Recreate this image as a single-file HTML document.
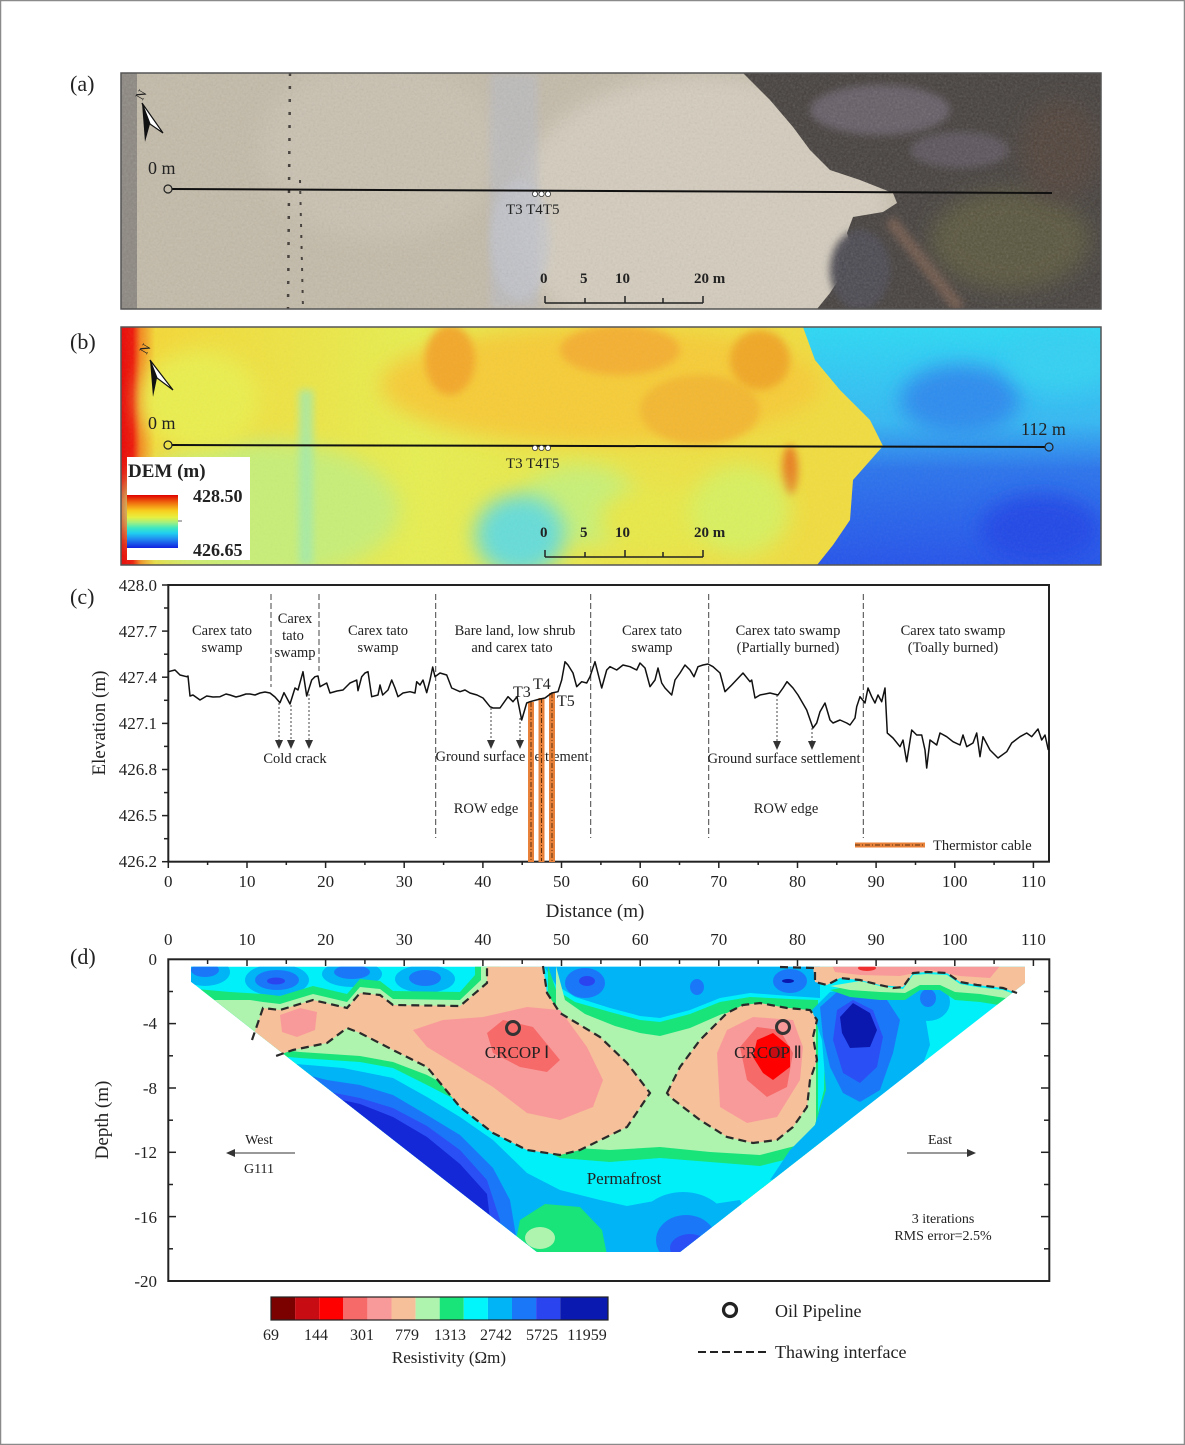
<!DOCTYPE html>
<html><head><meta charset="utf-8">
<style>
html,body{margin:0;padding:0;background:#fff;}
body{width:1185px;height:1445px;overflow:hidden;}
svg{display:block;}
text{font-family:"Liberation Serif",serif;fill:#222;}
</style></head>
<body>
<svg width="1185" height="1445" viewBox="0 0 1185 1445" xmlns="http://www.w3.org/2000/svg">
<defs>
<filter id="bl" x="-50%" y="-50%" width="200%" height="200%"><feGaussianBlur stdDeviation="10"/></filter>
<filter id="bl2" x="-50%" y="-50%" width="200%" height="200%"><feGaussianBlur stdDeviation="4"/></filter>
<filter id="tex" x="0" y="0" width="100%" height="100%"><feTurbulence type="fractalNoise" baseFrequency="0.45" numOctaves="2" seed="4"/><feColorMatrix type="saturate" values="0"/></filter>
<clipPath id="ca"><rect x="121" y="73" width="980" height="236"/></clipPath>
<clipPath id="cb"><rect x="121" y="327" width="980" height="238"/></clipPath>
<clipPath id="cd"><path d="M191,966.7 L1025,966.7 L1025,983 L680,1252 L537,1252 L191,981.7 Z"/></clipPath>
<linearGradient id="dem" x1="0" y1="0" x2="0" y2="1">
<stop offset="0" stop-color="#e00000"/><stop offset="0.15" stop-color="#f07010"/><stop offset="0.3" stop-color="#f8d020"/><stop offset="0.42" stop-color="#e8f040"/><stop offset="0.52" stop-color="#a0f080"/><stop offset="0.62" stop-color="#40e8c0"/><stop offset="0.72" stop-color="#20d0f0"/><stop offset="0.85" stop-color="#2080f0"/><stop offset="1" stop-color="#1020e0"/>
</linearGradient>
<linearGradient id="demL" x1="0" y1="0" x2="1" y2="0">
<stop offset="0" stop-color="#e80808"/><stop offset="0.012" stop-color="#ee1a0a"/><stop offset="0.02" stop-color="#f38a20"/><stop offset="0.035" stop-color="#f4d838"/><stop offset="0.3" stop-color="#e6ee52"/><stop offset="0.7" stop-color="#f0dc40"/><stop offset="1" stop-color="#f0dc40"/>
</linearGradient>
<linearGradient id="demR" x1="0" y1="0" x2="0" y2="1">
<stop offset="0" stop-color="#2ed8f4"/><stop offset="0.4" stop-color="#36b8f2"/><stop offset="0.6" stop-color="#2c74ec"/><stop offset="1" stop-color="#2654ea"/>
</linearGradient>
</defs>

<!-- outer border -->
<rect x="0.5" y="0.5" width="1184" height="1444" fill="none" stroke="#8a8a8a" stroke-width="1.5"/>

<!-- panel labels -->
<text x="70" y="91" font-size="22">(a)</text>
<text x="70" y="349" font-size="22">(b)</text>
<text x="70" y="604" font-size="22">(c)</text>
<text x="70" y="964" font-size="22">(d)</text>

<!-- ================= PANEL A ================= -->
<g clip-path="url(#ca)">
<rect x="121" y="73" width="980" height="236" fill="#c3baa8"/>
<rect x="121" y="73" width="16" height="236" fill="#8c8780"/>
<ellipse cx="700" cy="215" rx="190" ry="140" fill="#d4ccbd" filter="url(#bl)"/>
<ellipse cx="380" cy="150" rx="120" ry="90" fill="#c9c1b0" filter="url(#bl)"/>
<rect x="490" y="73" width="48" height="236" fill="#b9bcc6" opacity="0.6" filter="url(#bl2)"/>
<ellipse cx="520" cy="240" rx="30" ry="60" fill="#c3c6d0" opacity="0.6" filter="url(#bl2)"/>
<line x1="290" y1="73" x2="288" y2="309" stroke="#3a3530" stroke-width="2.5" stroke-dasharray="3 10"/>
<line x1="300" y1="180" x2="303" y2="309" stroke="#3a3530" stroke-width="2" stroke-dasharray="3 8"/>
<polygon points="743,73 1101,73 1101,309 817,309 830,293 843,273 853,253 847,233 853,217 883,212 897,203 893,193 860,180 830,170 810,150 793,127 770,100" fill="#433e3b"/>
<ellipse cx="880" cy="110" rx="70" ry="25" fill="#7a6f80" filter="url(#bl2)" opacity="0.6"/>
<ellipse cx="960" cy="150" rx="50" ry="18" fill="#706678" filter="url(#bl2)" opacity="0.5"/>
<ellipse cx="1010" cy="240" rx="80" ry="50" fill="#57523a" filter="url(#bl)"/>
<ellipse cx="1060" cy="150" rx="40" ry="50" fill="#4d4038" filter="url(#bl)"/>
<ellipse cx="860" cy="270" rx="30" ry="40" fill="#4a4650" filter="url(#bl2)"/>
<line x1="890" y1="220" x2="960" y2="309" stroke="#6e574a" stroke-width="12" filter="url(#bl2)"/>
<rect x="121" y="73" width="980" height="236" filter="url(#tex)" opacity="0.22"/>
</g>
<rect x="121" y="73" width="980" height="236" fill="none" stroke="#555" stroke-width="1.5"/>
<!-- line a -->
<line x1="172" y1="189" x2="1052" y2="193" stroke="#111" stroke-width="2"/>
<circle cx="168" cy="189" r="4" fill="none" stroke="#222" stroke-width="1.2"/>
<circle cx="535" cy="194" r="2.6" fill="#fff" stroke="#333" stroke-width="0.8"/>
<circle cx="541.5" cy="194" r="2.6" fill="#fff" stroke="#333" stroke-width="0.8"/>
<circle cx="548" cy="194" r="2.6" fill="#fff" stroke="#333" stroke-width="0.8"/>
<text x="148" y="174" font-size="18" fill="#333">0 m</text>
<text x="506" y="214" font-size="15" fill="#333">T3 T4T5</text>
<!-- north arrow a -->
<text x="136" y="100" font-size="13" transform="rotate(-60 140 95)" fill="#111">N</text>
<polygon points="142,103 145,142 150,124" fill="#111"/>
<polygon points="142,103 150,124 163,133" fill="#fff" stroke="#111" stroke-width="1.2"/>
<!-- scale bar a -->
<g font-size="15" font-weight="bold" fill="#222">
<text x="540" y="283">0</text><text x="580" y="283">5</text><text x="615" y="283">10</text><text x="694" y="283">20 m</text>
</g>
<g stroke="#222" stroke-width="1.5">
<line x1="545" y1="303" x2="703" y2="303"/>
<line x1="545" y1="296" x2="545" y2="303"/><line x1="585" y1="298" x2="585" y2="303"/><line x1="625" y1="296" x2="625" y2="303"/><line x1="663" y1="298" x2="663" y2="303"/><line x1="703" y1="296" x2="703" y2="303"/>
</g>

<!-- ================= PANEL B ================= -->
<g clip-path="url(#cb)">
<rect x="121" y="327" width="980" height="238" fill="url(#demL)"/>
<ellipse cx="260" cy="510" rx="140" ry="70" fill="#c8ee78" filter="url(#bl)"/>
<ellipse cx="200" cy="400" rx="60" ry="50" fill="#eaee50" filter="url(#bl)"/>
<rect x="299" y="390" width="14" height="175" fill="#a0eab0" opacity="0.8" filter="url(#bl2)"/>
<ellipse cx="600" cy="385" rx="220" ry="60" fill="#f6cc38" filter="url(#bl)"/>
<ellipse cx="450" cy="360" rx="25" ry="35" fill="#f3a82a" filter="url(#bl2)"/>
<ellipse cx="620" cy="350" rx="60" ry="25" fill="#f4b030" filter="url(#bl2)"/>
<ellipse cx="700" cy="410" rx="60" ry="35" fill="#f3b832" filter="url(#bl2)"/>
<ellipse cx="760" cy="360" rx="30" ry="30" fill="#f0a828" filter="url(#bl2)"/>
<ellipse cx="790" cy="470" rx="8" ry="25" fill="#e88020" filter="url(#bl2)"/>
<ellipse cx="580" cy="505" rx="60" ry="40" fill="#c8f078" filter="url(#bl)"/>
<ellipse cx="520" cy="535" rx="45" ry="40" fill="#68dcd8" filter="url(#bl)"/>
<ellipse cx="660" cy="520" rx="60" ry="35" fill="#e8e848" filter="url(#bl)"/>
<ellipse cx="740" cy="510" rx="50" ry="45" fill="#d8f060" filter="url(#bl)"/>
<polygon points="803,327 1101,327 1101,565 817,565 833,545 850,520 853,480 883,446 870,420 840,390 815,360" fill="url(#demR)"/>
<ellipse cx="960" cy="400" rx="60" ry="35" fill="#2e8cee" filter="url(#bl)"/>
<ellipse cx="1060" cy="360" rx="50" ry="30" fill="#34d0f2" filter="url(#bl)"/>
<ellipse cx="1040" cy="530" rx="60" ry="35" fill="#2448e6" filter="url(#bl)"/>
<rect x="121" y="327" width="980" height="238" filter="url(#tex)" opacity="0.08"/>
</g>
<rect x="121" y="327" width="980" height="238" fill="none" stroke="#555" stroke-width="1.5"/>
<line x1="172" y1="445" x2="1045" y2="447" stroke="#111" stroke-width="2"/>
<circle cx="168" cy="445" r="4" fill="none" stroke="#222" stroke-width="1.2"/>
<circle cx="1049" cy="447" r="4" fill="none" stroke="#222" stroke-width="1.2"/>
<circle cx="535" cy="448" r="2.6" fill="#fff" stroke="#333" stroke-width="0.8"/>
<circle cx="541.5" cy="448" r="2.6" fill="#fff" stroke="#333" stroke-width="0.8"/>
<circle cx="548" cy="448" r="2.6" fill="#fff" stroke="#333" stroke-width="0.8"/>
<text x="148" y="429" font-size="18" fill="#222">0 m</text>
<text x="1021" y="435" font-size="18" fill="#222">112 m</text>
<text x="506" y="468" font-size="15" fill="#222">T3 T4T5</text>
<text x="140" y="354" font-size="13" transform="rotate(-60 144 349)" fill="#111">N</text>
<polygon points="150,360 153,397 157,378" fill="#111"/>
<polygon points="150,360 157,378 173,390" fill="#fff" stroke="#111" stroke-width="1.2"/>
<!-- DEM legend -->
<rect x="127" y="457" width="123" height="103" fill="#fff"/>
<text x="128" y="477" font-size="19" font-weight="bold" fill="#111">DEM (m)</text>
<rect x="127" y="495" width="51" height="53" fill="url(#dem)"/>
<line x1="178" y1="521" x2="182" y2="521" stroke="#999" stroke-width="1.5"/>
<text x="193" y="502" font-size="18" font-weight="bold" fill="#111">428.50</text>
<text x="193" y="556" font-size="18" font-weight="bold" fill="#111">426.65</text>
<g font-size="15" font-weight="bold" fill="#222">
<text x="540" y="537">0</text><text x="580" y="537">5</text><text x="615" y="537">10</text><text x="694" y="537">20 m</text>
</g>
<g stroke="#222" stroke-width="1.5">
<line x1="545" y1="557" x2="703" y2="557"/>
<line x1="545" y1="550" x2="545" y2="557"/><line x1="585" y1="552" x2="585" y2="557"/><line x1="625" y1="550" x2="625" y2="557"/><line x1="663" y1="552" x2="663" y2="557"/><line x1="703" y1="550" x2="703" y2="557"/>
</g>

<!-- ================= PANEL C ================= -->
<rect x="168.3" y="585" width="880.7" height="276.7" fill="none" stroke="#222" stroke-width="2"/>
<g stroke="#222" stroke-width="1.5">
<line x1="162" y1="585" x2="168" y2="585"/><line x1="164" y1="608" x2="168" y2="608"/>
<line x1="162" y1="631.1" x2="168" y2="631.1"/><line x1="164" y1="654.2" x2="168" y2="654.2"/>
<line x1="162" y1="677.2" x2="168" y2="677.2"/><line x1="164" y1="700.3" x2="168" y2="700.3"/>
<line x1="162" y1="723.4" x2="168" y2="723.4"/><line x1="164" y1="746.4" x2="168" y2="746.4"/>
<line x1="162" y1="769.5" x2="168" y2="769.5"/><line x1="164" y1="792.6" x2="168" y2="792.6"/>
<line x1="162" y1="815.6" x2="168" y2="815.6"/><line x1="164" y1="838.7" x2="168" y2="838.7"/>
<line x1="162" y1="861.7" x2="168" y2="861.7"/>
</g>
<g font-size="17" text-anchor="end" fill="#222">
<text x="157" y="591">428.0</text><text x="157" y="637">427.7</text><text x="157" y="683">427.4</text><text x="157" y="729">427.1</text><text x="157" y="775">426.8</text><text x="157" y="821">426.5</text><text x="157" y="867">426.2</text>
</g>
<g stroke="#222" stroke-width="1.5">
<line x1="168.3" y1="861.7" x2="168.3" y2="868"/><line x1="207.6" y1="861.7" x2="207.6" y2="865"/>
<line x1="247" y1="861.7" x2="247" y2="868"/><line x1="286.3" y1="861.7" x2="286.3" y2="865"/>
<line x1="325.6" y1="861.7" x2="325.6" y2="868"/><line x1="364.9" y1="861.7" x2="364.9" y2="865"/>
<line x1="404.2" y1="861.7" x2="404.2" y2="868"/><line x1="443.6" y1="861.7" x2="443.6" y2="865"/>
<line x1="482.9" y1="861.7" x2="482.9" y2="868"/><line x1="522.2" y1="861.7" x2="522.2" y2="865"/>
<line x1="561.5" y1="861.7" x2="561.5" y2="868"/><line x1="600.9" y1="861.7" x2="600.9" y2="865"/>
<line x1="640.2" y1="861.7" x2="640.2" y2="868"/><line x1="679.5" y1="861.7" x2="679.5" y2="865"/>
<line x1="718.8" y1="861.7" x2="718.8" y2="868"/><line x1="758.2" y1="861.7" x2="758.2" y2="865"/>
<line x1="797.5" y1="861.7" x2="797.5" y2="868"/><line x1="836.8" y1="861.7" x2="836.8" y2="865"/>
<line x1="876.1" y1="861.7" x2="876.1" y2="868"/><line x1="915.5" y1="861.7" x2="915.5" y2="865"/>
<line x1="954.8" y1="861.7" x2="954.8" y2="868"/><line x1="994.1" y1="861.7" x2="994.1" y2="865"/>
<line x1="1033.4" y1="861.7" x2="1033.4" y2="868"/>
</g>
<g font-size="17" text-anchor="middle" fill="#222">
<text x="168.3" y="887">0</text><text x="247" y="887">10</text><text x="325.6" y="887">20</text><text x="404.2" y="887">30</text><text x="482.9" y="887">40</text><text x="561.5" y="887">50</text><text x="640.2" y="887">60</text><text x="718.8" y="887">70</text><text x="797.5" y="887">80</text><text x="876.1" y="887">90</text><text x="954.8" y="887">100</text><text x="1033.4" y="887">110</text>
</g>
<text x="595" y="917" font-size="19" text-anchor="middle" fill="#222">Distance (m)</text>
<text x="105" y="723" font-size="19" text-anchor="middle" fill="#222" transform="rotate(-90 105 723)">Elevation (m)</text>
<g stroke="#444" stroke-width="1" stroke-dasharray="6 3">
<line x1="271" y1="594" x2="271" y2="687"/>
<line x1="319" y1="594" x2="319" y2="671"/>
<line x1="435.7" y1="594" x2="435.7" y2="838"/>
<line x1="590.7" y1="594" x2="590.7" y2="838"/>
<line x1="708.7" y1="594" x2="708.7" y2="838"/>
<line x1="863.3" y1="594" x2="863.3" y2="838"/>
</g>
<g font-size="14.5" text-anchor="middle" fill="#333">
<text x="222" y="635">Carex tato</text><text x="222" y="652">swamp</text>
<text x="295" y="623">Carex</text><text x="293" y="640">tato</text><text x="295" y="657">swamp</text>
<text x="378" y="635">Carex tato</text><text x="378" y="652">swamp</text>
<text x="515" y="635">Bare land, low shrub</text><text x="512" y="652">and carex tato</text>
<text x="652" y="635">Carex tato</text><text x="652" y="652">swamp</text>
<text x="788" y="635">Carex tato swamp</text><text x="788" y="652">(Partially burned)</text>
<text x="953" y="635">Carex tato swamp</text><text x="953" y="652">(Toally burned)</text>
<text x="295" y="763">Cold crack</text>
<text x="512" y="761">Ground surface settlement</text>
<text x="784" y="763">Ground surface settlement</text>
<text x="486" y="813">ROW  edge</text>
<text x="786" y="813">ROW  edge</text>
</g>
<g stroke="#444" stroke-width="1" stroke-dasharray="2 2">
<line x1="279" y1="703" x2="279" y2="740"/><line x1="291" y1="705" x2="291" y2="740"/><line x1="309" y1="694" x2="309" y2="740"/>
<line x1="491" y1="708" x2="491" y2="740"/><line x1="520" y1="718" x2="520" y2="740"/>
<line x1="777" y1="695" x2="777" y2="741"/><line x1="812" y1="728" x2="812" y2="741"/>
</g>
<g fill="#333">
<polygon points="275,740 283,740 279,749"/><polygon points="287,740 295,740 291,749"/><polygon points="305,740 313,740 309,749"/>
<polygon points="487,740 495,740 491,749"/><polygon points="516,740 524,740 520,749"/>
<polygon points="773,741 781,741 777,750"/><polygon points="808,741 816,741 812,750"/>
</g>
<g>
<rect x="528" y="702" width="6" height="160" fill="#e8823a"/>
<rect x="538.5" y="698" width="6" height="164" fill="#e8823a"/>
<rect x="549" y="693" width="6" height="169" fill="#e8823a"/>
<g stroke="#5a3010" stroke-width="1" stroke-dasharray="5 2 1 2">
<line x1="531" y1="702" x2="531" y2="861"/><line x1="541.5" y1="698" x2="541.5" y2="861"/><line x1="552" y1="693" x2="552" y2="861"/>
</g>
</g>
<g font-size="16" fill="#222"><text x="513" y="697">T3</text><text x="533" y="689">T4</text><text x="557" y="706">T5</text></g>
<polyline fill="none" stroke="#111" stroke-width="1.5" stroke-linejoin="round" points="168.3,671.7 175,670 180,675 186.7,676.7 188,676 190,696 193,695 200,700 206.7,696 213,697 220,696.7 226,694 230,695 236,697 240,696 246,694 250,694 255,695 260,693 265,692 270,693 275,697 280,702.7 284,692.7 290,704 295,688 298,690 303,671.7 306.7,696 311.7,680 315,676.7 318,676 320,686.7 326.7,683 330,693 337,691 343,690 350,683 353,681.7 356.7,680 358,690.7 361.7,676.7 365,673 368,671.7 371.7,696.7 378,695 380,685 382.7,695 388,690 391.7,680 395,688 398,696.7 403,693 410,691.7 415,693 416.7,681.7 420,685 423,680 426.7,692.7 430,680 432.7,667 435,676.7 440,673 446.7,675 451.7,688 460,691.7 465,690 470,693 477,695 483,698 490,706.7 493,708 500,708 508,696.7 513,701.7 517,696.7 521.7,720 526.7,703 530,701.7 540,699 545,698 551.7,693 558,691.7 561.7,680 565,661.7 568,665 573,673 576.7,686.7 581.7,681.7 586.7,683 590,676.7 595,661.7 601.7,688 606.7,670 610,666.7 616.7,670 623,665 630,666.7 636.7,670 640,663 645,668 650,686.7 655,680 658,668 661.7,683 665,688 671.7,695 675,680 680,673 685,665 690,670 694,676.7 698,666.7 703,665 708,664 713,666.7 720,673 725,691.7 731.7,685 743,673 750,681.7 751.7,680 755,698 760,695 770,693 778,695 783,688 787,681.7 793,688 798,695 806.7,710 813,728 816.7,723 820,711.7 825,703 830,720 833,723 840,720 846.7,723 850,725 855,718 856.7,706.7 860,696.7 865,703 868,688 871.7,696.7 875,703 878,695 881.7,701.7 885,688 887.3,733 893,738 900,746.7 903,740 906.7,761.7 911.7,730 916.7,735 921.7,735 925,750 926.7,768 930,740 936.7,745 940,733 946.7,736.7 953,741.7 960,745 963,735 966.7,746.7 973,743 976.7,733 980,756.7 983,736.7 990,750 998,758 1006.7,751.7 1011.7,743 1020,736.7 1026.7,733 1031.7,736.7 1038,729 1041.7,740 1045,735 1048.3,750"/>
<rect x="855" y="842.5" width="70" height="5" fill="#e8823a"/>
<line x1="855" y1="845" x2="925" y2="845" stroke="#5a3010" stroke-width="1" stroke-dasharray="5 2 1 2"/>
<text x="933" y="850" font-size="14.5" fill="#333">Thermistor cable</text>

<!-- ================= PANEL D ================= -->
<g clip-path="url(#cd)">
<rect x="180" y="960" width="860" height="300" fill="#00f0fa"/>
<ellipse cx="205" cy="972" rx="25" ry="14" fill="#00b4f6"/>
<ellipse cx="205" cy="970" rx="14" ry="7" fill="#1a78f8"/>
<ellipse cx="277" cy="980" rx="32" ry="16" fill="#00b4f6"/>
<ellipse cx="277" cy="980" rx="22" ry="10" fill="#1a78f8"/>
<ellipse cx="276" cy="981" rx="9" ry="3.5" fill="#2a44f0"/>
<ellipse cx="352" cy="974" rx="30" ry="13" fill="#00b4f6"/>
<ellipse cx="352" cy="972" rx="18" ry="7" fill="#1a78f8"/>
<ellipse cx="425" cy="979" rx="30" ry="14" fill="#00b4f6"/>
<ellipse cx="425" cy="978" rx="16" ry="8" fill="#1a78f8"/>
<!-- top-middle light blue zone -->
<polygon points="540,960 820,960 820,998 790,996 750,993 720,998 690,1010 660,1018 640,1016 610,1008 575,997 556,985" fill="#00b4f6"/>
<ellipse cx="585" cy="983" rx="20" ry="15" fill="#1a78f8"/>
<ellipse cx="587" cy="981" rx="8" ry="5" fill="#2a44f0"/>
<ellipse cx="697" cy="987" rx="7" ry="8" fill="#1a78f8"/>
<ellipse cx="790" cy="981" rx="17" ry="12" fill="#1a78f8"/>
<ellipse cx="788" cy="981" rx="6" ry="2" fill="#0a18b0"/>
<!-- green top left -->
<polygon points="185,988 230,992 263,994 280,996 313,986 347,994 360,979 380,981 393,991 460,992 475,975 475,960 500,960 500,1100 185,1100" fill="#18e47a"/>
<polygon points="185,1000 250,1000 263,1002 280,1004 313,994 347,1002 360,987 380,989 393,999 460,1000 481,980 481,960 500,960 500,1050 560,1050 560,1200 185,1200" fill="#aef3ae"/>
<!-- green mid -->
<polygon points="548,966 556,990 575,1002 610,1012 640,1020 660,1022 690,1014 720,1002 750,997 790,999 818,1000 818,1200 548,1200" fill="#18e47a"/>
<polygon points="556,966 565,1000 585,1014 615,1026 640,1033 660,1036 690,1028 722,1014 750,1008 790,1008 816,1012 816,1200 556,1200" fill="#aef3ae"/>
<!-- lower bands -->
<polygon points="180,1040 240,1045 300,1052 360,1056 393,1062 427,1075 460,1093 493,1113 527,1133 560,1147 610,1150 660,1147 710,1152 760,1155 795,1146 815,1125 824,1090 825,1040 828,1000 845,1000 845,1300 180,1300" fill="#18e47a"/>
<polygon points="180,1050 240,1053 300,1058 360,1062 393,1068 427,1085 460,1102 493,1122 527,1142 560,1158 610,1162 660,1158 710,1162 760,1166 800,1156 825,1132 833,1090 833,1040 835,1000 850,1000 850,1300 180,1300" fill="#00f0fa"/>
<polygon points="180,1058 250,1060 343,1068 393,1078 427,1097 460,1117 493,1140 527,1173 560,1190 600,1200 627,1206 660,1200 700,1206 740,1200 780,1300 180,1300" fill="#00b4f6"/>
<polygon points="180,1066 280,1068 327,1080 360,1085 393,1095 427,1115 460,1135 493,1168 510,1200 520,1260 525,1300 180,1300" fill="#1a78f8"/>
<polygon points="180,1080 300,1086 360,1098 393,1108 427,1126 460,1150 487,1180 500,1220 505,1300 180,1300" fill="#2a50f5"/>
<polygon points="180,1092 320,1095 360,1104 393,1117 427,1137 460,1164 487,1194 495,1260 495,1300 180,1300" fill="#1428d8"/>
<polygon points="512,1260 520,1220 545,1204 580,1207 602,1230 608,1260" fill="#18e47a"/>
<ellipse cx="540" cy="1238" rx="15" ry="11" fill="#aef3ae"/>
<ellipse cx="683" cy="1232" rx="48" ry="40" fill="#00b4f6"/>
<ellipse cx="686" cy="1240" rx="30" ry="25" fill="#1a78f8"/>
<ellipse cx="690" cy="1248" rx="20" ry="14" fill="#2a50f5"/>
<!-- right structures -->
<polygon points="812,1010 830,992 870,986 905,992 925,1015 930,1045 915,1085 880,1120 840,1150 800,1175 770,1180 790,1150 815,1125 826,1090 822,1040" fill="#00b4f6"/>
<polygon points="820,1007 837,992 860,988 887,1000 900,1020 893,1053 880,1090 860,1102 843,1093 830,1067 823,1037" fill="#1a78f8"/>
<polygon points="837,1010 853,1000 873,1010 883,1037 877,1067 860,1083 843,1073 833,1040" fill="#2a50f5"/>
<polygon points="840,1017 853,1003 870,1013 877,1030 870,1047 850,1048 842,1033" fill="#0a18b0"/>
<ellipse cx="928" cy="1002" rx="22" ry="19" fill="#00b4f6"/>
<ellipse cx="928" cy="998" rx="8" ry="9" fill="#1a78f8"/>
<polygon points="830,990 860,984 880,989 903,991 913,978 927,976 947,977 960,986 977,989 1003,992 1017,997 1030,985 1030,1005 1005,1006 980,1002 955,1000 940,990 920,990 905,1000 880,1000 850,997" fill="#18e47a"/>
<polygon points="830,986 860,981 880,986 903,989 913,975 927,974 947,975 960,984 977,987 1003,990 1017,995 1030,983 1030,995 1005,998 980,994 955,992 940,985 920,985 905,993 880,992 850,990" fill="#aef3ae"/>
<!-- peach regions -->
<polygon points="245,1050 252,1040 263,1008 280,1010 313,1000 347,1008 360,993 380,995 393,1005 460,1006 487,983 487,966 543,966 547,993 560,1013 600,1037 627,1063 650,1093 627,1127 580,1150 560,1155 527,1150 493,1133 460,1107 427,1067 393,1050 360,1033 347,1028 327,1043 293,1050 273,1057" fill="#f6c09a"/>
<polygon points="667,1093 680,1067 700,1040 727,1013 743,1005 760,1003 787,1008 810,1010 817,1020 813,1037 817,1060 810,1080 807,1107 793,1127 777,1140 753,1143 727,1137 700,1120 670,1097" fill="#f6c09a"/>
<polygon points="812,960 1030,960 1030,983 1017,993 1003,988 977,985 960,982 947,973 927,972 913,973 903,987 880,985 860,980 840,978 827,985 815,982" fill="#f6c09a"/>
<polygon points="280,1015 300,1008 317,1012 315,1030 297,1037 282,1032" fill="#f99a9a"/>
<polygon points="413,1030 443,1020 483,1017 527,1007 560,1010 587,1047 603,1080 593,1107 560,1120 527,1113 493,1087 460,1067 427,1047" fill="#f99a9a"/>
<polygon points="717,1053 727,1030 753,1017 793,1020 803,1047 800,1080 777,1117 747,1123 720,1107" fill="#f99a9a"/>
<polygon points="830,960 1005,960 990,978 960,976 930,970 900,976 860,975 835,972" fill="#f99a9a"/>
<polygon points="487,1033 503,1020 533,1027 560,1060 547,1072 520,1067 493,1053" fill="#f66a6a"/>
<polygon points="740,1047 757,1027 780,1030 793,1053 787,1087 767,1097 747,1080" fill="#f66a6a"/>
<polygon points="757,1040 773,1033 790,1047 790,1067 773,1080 763,1073 753,1057" fill="#ff0000"/>
<ellipse cx="777" cy="1052" rx="7" ry="6" fill="#c80c14"/>
<ellipse cx="867" cy="968" rx="9" ry="3" fill="#f03030"/>
</g>
<g fill="none" stroke="#2a2a2a" stroke-width="2.2" stroke-dasharray="8 5">
<polyline points="252,1040 263,1008 280,1010 313,1000 347,1008 360,993 380,995 393,1005 460,1006 487,983 487,966"/>
<polyline points="543,966 547,993 560,1013 600,1037 627,1063 650,1093 627,1127 580,1150 560,1155 527,1150 493,1133 460,1107 427,1067 393,1050 360,1033 347,1028 327,1043 293,1050 273,1057"/>
<polygon points="667,1093 680,1067 700,1040 727,1013 743,1005 760,1003 787,1008 810,1010 817,1020 813,1037 817,1060 810,1080 807,1107 793,1127 777,1140 753,1143 727,1137 700,1120 670,1097"/>
<polyline points="780,967 815,968 815,982 827,985 840,978 860,980 880,985 893,988 903,987 913,973 927,972 947,973 960,982 977,985 1003,988 1017,993"/>
</g>
<circle cx="513" cy="1028" r="6.5" fill="none" stroke="#333" stroke-width="3"/>
<circle cx="783" cy="1027" r="6.5" fill="none" stroke="#333" stroke-width="3"/>
<text x="517" y="1058" font-size="17" text-anchor="middle" fill="#333">CRCOP Ⅰ</text>
<text x="768" y="1058" font-size="17" text-anchor="middle" fill="#333">CRCOP Ⅱ</text>
<text x="624" y="1184" font-size="17" text-anchor="middle" fill="#1e3422">Permafrost</text>
<rect x="168.3" y="959.3" width="881" height="321.7" fill="none" stroke="#222" stroke-width="2"/>
<g stroke="#222" stroke-width="1.5">
<line x1="207.6" y1="959.3" x2="207.6" y2="964"/><line x1="247" y1="959.3" x2="247" y2="966"/>
<line x1="286.3" y1="959.3" x2="286.3" y2="964"/><line x1="325.6" y1="959.3" x2="325.6" y2="966"/>
<line x1="364.9" y1="959.3" x2="364.9" y2="964"/><line x1="404.2" y1="959.3" x2="404.2" y2="966"/>
<line x1="443.6" y1="959.3" x2="443.6" y2="964"/><line x1="482.9" y1="959.3" x2="482.9" y2="966"/>
<line x1="522.2" y1="959.3" x2="522.2" y2="964"/><line x1="561.5" y1="959.3" x2="561.5" y2="966"/>
<line x1="600.9" y1="959.3" x2="600.9" y2="964"/><line x1="640.2" y1="959.3" x2="640.2" y2="966"/>
<line x1="679.5" y1="959.3" x2="679.5" y2="964"/><line x1="718.8" y1="959.3" x2="718.8" y2="966"/>
<line x1="758.2" y1="959.3" x2="758.2" y2="964"/><line x1="797.5" y1="959.3" x2="797.5" y2="966"/>
<line x1="836.8" y1="959.3" x2="836.8" y2="964"/><line x1="876.1" y1="959.3" x2="876.1" y2="966"/>
<line x1="915.5" y1="959.3" x2="915.5" y2="964"/><line x1="954.8" y1="959.3" x2="954.8" y2="966"/>
<line x1="994.1" y1="959.3" x2="994.1" y2="964"/><line x1="1033.4" y1="959.3" x2="1033.4" y2="966"/>
<line x1="168.3" y1="991.5" x2="173" y2="991.5"/><line x1="168.3" y1="1023.6" x2="176" y2="1023.6"/>
<line x1="168.3" y1="1055.8" x2="173" y2="1055.8"/><line x1="168.3" y1="1088" x2="176" y2="1088"/>
<line x1="168.3" y1="1120.2" x2="173" y2="1120.2"/><line x1="168.3" y1="1152.3" x2="176" y2="1152.3"/>
<line x1="168.3" y1="1184.5" x2="173" y2="1184.5"/><line x1="168.3" y1="1216.6" x2="176" y2="1216.6"/>
<line x1="168.3" y1="1248.8" x2="173" y2="1248.8"/>
<line x1="1049.3" y1="991.5" x2="1044" y2="991.5"/><line x1="1049.3" y1="1023.6" x2="1041" y2="1023.6"/>
<line x1="1049.3" y1="1055.8" x2="1044" y2="1055.8"/><line x1="1049.3" y1="1088" x2="1041" y2="1088"/>
<line x1="1049.3" y1="1120.2" x2="1044" y2="1120.2"/><line x1="1049.3" y1="1152.3" x2="1041" y2="1152.3"/>
<line x1="1049.3" y1="1184.5" x2="1044" y2="1184.5"/><line x1="1049.3" y1="1216.6" x2="1041" y2="1216.6"/>
<line x1="1049.3" y1="1248.8" x2="1044" y2="1248.8"/>
</g>
<g font-size="17" text-anchor="middle" fill="#222">
<text x="168.3" y="945">0</text><text x="247" y="945">10</text><text x="325.6" y="945">20</text><text x="404.2" y="945">30</text><text x="482.9" y="945">40</text><text x="561.5" y="945">50</text><text x="640.2" y="945">60</text><text x="718.8" y="945">70</text><text x="797.5" y="945">80</text><text x="876.1" y="945">90</text><text x="954.8" y="945">100</text><text x="1033.4" y="945">110</text>
</g>
<g font-size="17" text-anchor="end" fill="#222">
<text x="157" y="965">0</text><text x="157" y="1029">-4</text><text x="157" y="1094">-8</text><text x="157" y="1158">-12</text><text x="157" y="1223">-16</text><text x="157" y="1287">-20</text>
</g>
<text x="108" y="1120" font-size="19" text-anchor="middle" fill="#222" transform="rotate(-90 108 1120)">Depth (m)</text>
<text x="259" y="1144" font-size="14" text-anchor="middle" fill="#333">West</text>
<line x1="295" y1="1153" x2="232" y2="1153" stroke="#333" stroke-width="1"/>
<polygon points="226,1153 235,1149 235,1157" fill="#333"/>
<text x="259" y="1173" font-size="14" text-anchor="middle" fill="#333">G111</text>
<text x="940" y="1144" font-size="14" text-anchor="middle" fill="#333">East</text>
<line x1="907" y1="1153" x2="969" y2="1153" stroke="#333" stroke-width="1"/>
<polygon points="976,1153 967,1149 967,1157" fill="#333"/>
<text x="943" y="1223" font-size="14" text-anchor="middle" fill="#333">3 iterations</text>
<text x="943" y="1240" font-size="14" text-anchor="middle" fill="#333">RMS error=2.5%</text>

<g>
<rect x="271" y="1297" width="24.1" height="23" fill="#7b0000"/>
<rect x="295.1" y="1297" width="24.1" height="23" fill="#c80c14"/>
<rect x="319.2" y="1297" width="24.1" height="23" fill="#ff0000"/>
<rect x="343.3" y="1297" width="24.1" height="23" fill="#f66a6a"/>
<rect x="367.4" y="1297" width="24.1" height="23" fill="#f99a9a"/>
<rect x="391.5" y="1297" width="24.1" height="23" fill="#f6c09a"/>
<rect x="415.6" y="1297" width="24.1" height="23" fill="#aef3ae"/>
<rect x="439.7" y="1297" width="24.1" height="23" fill="#18e47a"/>
<rect x="463.8" y="1297" width="24.1" height="23" fill="#00f6fa"/>
<rect x="487.9" y="1297" width="24.1" height="23" fill="#00b4f6"/>
<rect x="512" y="1297" width="24.1" height="23" fill="#1a78f8"/>
<rect x="536.1" y="1297" width="24.1" height="23" fill="#2a44f0"/>
<rect x="560.2" y="1297" width="47.8" height="23" fill="#0a1ab0"/>
<rect x="271" y="1297" width="337" height="23" fill="none" stroke="#222" stroke-width="1.2"/>
</g>
<g font-size="16" text-anchor="middle" fill="#222">
<text x="271" y="1340">69</text><text x="316" y="1340">144</text><text x="362" y="1340">301</text><text x="407" y="1340">779</text><text x="450" y="1340">1313</text><text x="496" y="1340">2742</text><text x="542" y="1340">5725</text><text x="587" y="1340">11959</text>
</g>
<text x="449" y="1363" font-size="17" text-anchor="middle" fill="#222">Resistivity (Ωm)</text>
<circle cx="730" cy="1310" r="6.5" fill="none" stroke="#222" stroke-width="3.2"/>
<text x="775" y="1317" font-size="18" fill="#222">Oil Pipeline</text>
<line x1="698" y1="1352" x2="766" y2="1352" stroke="#222" stroke-width="2" stroke-dasharray="8 4"/>
<text x="775" y="1358" font-size="18" fill="#222">Thawing interface</text>
</svg>
</body></html>
